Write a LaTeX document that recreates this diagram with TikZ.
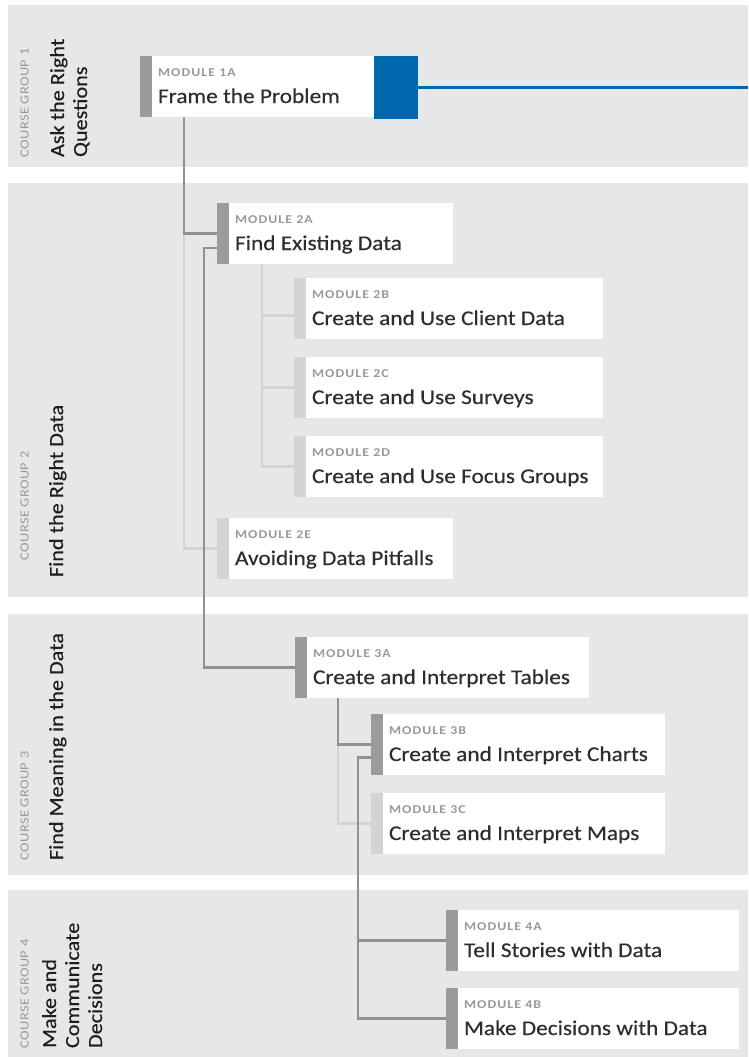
\documentclass[tikz,border=0pt]{standalone}
\usepackage{fontspec}
\setmainfont{Carlito}
\newfontfamily\ttlfont[FakeStretch=1.11,FakeBold=0.3]{Carlito}
\newfontfamily\lblfont[FakeStretch=1.15,LetterSpace=9]{Carlito}
\newfontfamily\grpfont[FakeStretch=1.15,LetterSpace=3]{Carlito}
\usetikzlibrary{calc}
\definecolor{bandgray}{HTML}{E6E7E9}
\definecolor{darkbar}{HTML}{9A9B9D}
\definecolor{lightbar}{HTML}{D3D4D6}
\definecolor{darkln}{HTML}{909193}
\definecolor{lightln}{HTML}{D2D3D5}
\definecolor{bluebox}{HTML}{0067AC}
\definecolor{ttlcol}{HTML}{2E2E2E}
\definecolor{lblcol}{HTML}{999999}
\definecolor{grpcol}{HTML}{1E1E1E}
\tikzset{
  bandfill/.style={fill=bandgray},
  modbar/.style={inner sep=0pt, outer sep=0pt, minimum width=12pt, minimum height=61pt},
  modbox/.style={fill=white, inner sep=0pt, outer sep=0pt, minimum height=61pt},
  modlabel/.style={inner sep=0pt, outer sep=0pt, text=lblcol, font=\lblfont\bfseries\fontsize{12}{14}\selectfont},
  modtitle/.style={inner sep=0pt, outer sep=0pt, text=ttlcol, font=\ttlfont\fontsize{21}{25}\selectfont},
  grplabel/.style={inner sep=0pt, outer sep=0pt, rotate=90, anchor=base west, text=lblcol, font=\grpfont\fontsize{12.5}{15}\selectfont},
  grptitle/.style={inner sep=0pt, outer sep=0pt, rotate=90, anchor=base west, text=grpcol, font=\ttlfont\fontsize{20}{23}\selectfont},
  darkline/.style={draw=darkln, line width=2.6pt},
  lightline/.style={draw=lightln, line width=2.2pt},
}
% #1 name, #2 bar x, #3 top y, #4 right x, #5 bar colour, #6 label, #7 title
\newcommand\mymod[7]{%
  \node[modbar, fill=#5, anchor=north west] (b#1) at (#2,#3) {};
  \node[modbox, anchor=north west, minimum width={(#4-#2-12)*1pt}] (m#1) at (b#1.north east) {};
  \node[modlabel, anchor=base west] (l#1) at ([xshift=6pt,yshift=-20pt]m#1.north west) {#6};
  \node[modtitle, anchor=base west] (t#1) at ([xshift=6pt,yshift=-47pt]m#1.north west) {#7};
}
\begin{document}
\begin{tikzpicture}[x=1pt,y=-1pt]
\useasboundingbox[fill=white] (0,0) rectangle (748,1057);
% bands
\fill[bandfill] (8,5) rectangle (748,167);
\fill[bandfill] (8,183) rectangle (748,597);
\fill[bandfill] (8,614) rectangle (748,875);
\fill[bandfill] (8,890) rectangle (748,1057);
% group texts
\node[grplabel] (g1l) at (28.5,157) {COURSE GROUP 1};
\node[grptitle] (g1a) at (64,157) {Ask the Right};
\node[grptitle] (g1b) at (87,157) {Questions};
\node[grplabel] (g2l) at (28.5,560) {COURSE GROUP 2};
\node[grptitle] (g2a) at (63,577) {Find the Right Data};
\node[grplabel] (g3l) at (28.5,860) {COURSE GROUP 3};
\node[grptitle] (g3a) at (63,860) {Find Meaning in the Data};
\node[grplabel] (g4l) at (28.5,1048) {COURSE GROUP 4};
\node[grptitle] (g4a) at (56,1048) {Make and};
\node[grptitle] (g4b) at (79,1048) {Communicate};
\node[grptitle] (g4c) at (102,1048) {Decisions};
% modules
\mymod{1a}{140}{56}{374}{darkbar}{MODULE 1A}{Frame the Problem}
\mymod{2a}{217}{203}{453}{darkbar}{MODULE 2A}{Find Existing Data}
\mymod{2b}{294}{278}{603}{lightbar}{MODULE 2B}{Create and Use Client Data}
\mymod{2c}{294}{357}{603}{lightbar}{MODULE 2C}{Create and Use Surveys}
\mymod{2d}{294}{436}{603}{lightbar}{MODULE 2D}{Create and Use Focus Groups}
\mymod{2e}{217}{518}{453}{lightbar}{MODULE 2E}{Avoiding Data Pitfalls}
\mymod{3a}{295}{637}{589}{darkbar}{MODULE 3A}{Create and Interpret Tables}
\mymod{3b}{371}{714}{665}{darkbar}{MODULE 3B}{Create and Interpret Charts}
\mymod{3c}{371}{793}{665}{lightbar}{MODULE 3C}{Create and Interpret Maps}
\mymod{4a}{446}{910}{739}{darkbar}{MODULE 4A}{Tell Stories with Data}
\mymod{4b}{446}{988}{739}{darkbar}{MODULE 4B}{Make Decisions with Data}
% blue block and line
\node[fill=bluebox, inner sep=0pt, outer sep=0pt, minimum width=44pt, minimum height=63pt, anchor=north west] (blue) at (374,56) {};
\coordinate (blueend) at (748,87);
\draw[draw=bluebox, line width=2.4pt] (blue.east) -- (blue.east -| blueend);
% junction coordinates
\coordinate (j1) at ($(m1a.south west)+(32,0)$);
\coordinate (j2) at ($(m2a.south west)+(33,0)$);
\coordinate (j3) at ($(m3a.south west)+(31,0)$);
\coordinate (j6) at ($(b2a.west)+(-13,0)$);
\coordinate (j5) at ($(b4b.west)+(-88,0)$);
% light connectors
\draw[lightline] (j1 |- b2a.west) |- (b2e.west);
\draw[lightline] (j2) |- (b2d.west);
\draw[lightline] (j2 |- b2c.west) -- (b2c.west);
\draw[lightline] ([yshift=-7pt]j2 |- b2b.west) -- ([yshift=-7pt]b2b.west);
\draw[lightline] (j3 |- b3b.west) |- (b3c.west);
% dark connectors
\draw[darkline] (j1) |- (b2a.west);
\draw[darkline] ([yshift=-14.5pt]b2a.west) -| (j6 |- b3a.west) -- (b3a.west);
\draw[darkline] (j3) |- (b3b.west);
\draw[darkline] ([yshift=-13pt]b3b.west) -| (j5) -- (b4b.west);
\draw[darkline] (j5 |- b4a.west) -- (b4a.west);
\end{tikzpicture}
\end{document}
